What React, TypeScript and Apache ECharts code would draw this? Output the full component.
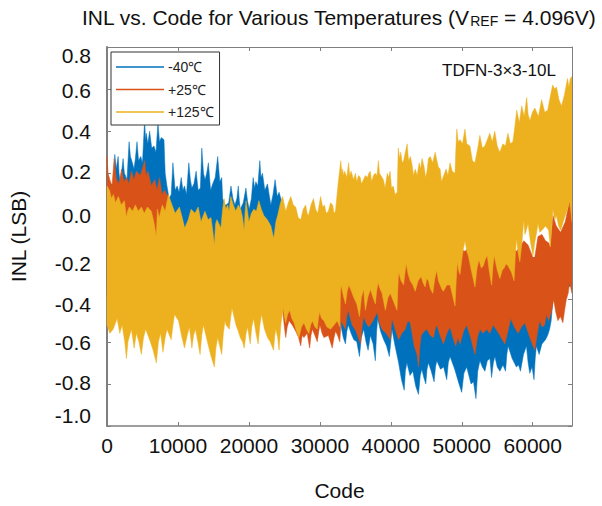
import React, { useEffect, useRef } from "react";
import * as echarts from "echarts";

type Pt = [number, number];

const xTicks = { min: 0, max: 65535, interval: 10000 };
const yTickLabels = ["0.8", "0.6", "0.4", "0.2", "0.0", "-0.2", "-0.4", "-0.6", "-0.8", "-1.0"];
const yLabelCenters = [55, 90, 131, 171, 215, 263, 304, 342, 382, 415];
const seriesNames = ["-40℃", "+25℃", "+125℃"];
const seriesColors = ["#0072BD", "#D95319", "#EDB120"];

const blueUpper: Pt[] = [[0,.20],[300,.13],[630,.15],[850,.11],[1100,.29],[1300,.22],[1570,.28],[1700,.20],[1800,.17],[2000,.19],[2270,.27],[2450,.20],[2600,.19],[2800,.16],[3110,.35],[3300,.28],[3580,.25],[3800,.22],[4000,.27],[4230,.35],[4450,.26],[4750,.28],[5000,.25],[5310,.46],[5420,.36],[5540,.39],[5750,.34],[6010,.40],[6300,.32],[6620,.33],[6900,.30],[7180,.44],[7400,.35],[7650,.37],[8030,.36],[8200,.20],[8450,.14],[8750,.08],[9050,.10],[9290,.25],[9600,.12],[9890,.14],[10150,.11],[10460,.18],[10700,.12],[10920,.14],[11200,.10],[11530,.25],[11750,.17],[11960,.13],[12250,.15],[12560,.21],[12850,.12],[13160,.13],[13360,.32],[13600,.20],[13820,.17],[14050,.20],[14290,.25],[14600,.12],[14900,.15],[15250,.18],[15600,.28],[15900,.16],[16170,.18],[16300,.08],[16630,.05],[16770,.05],[17150,.06],[17470,.14],[17750,.08],[18030,.05],[18300,.08],[18500,.14],[18650,.07],[18780,.03],[19200,.06],[19580,.13],[19800,.07],[20040,.03],[20350,.08],[20600,.18],[20800,.13],[20980,.16],[21250,.14],[21540,.26],[21700,.18],[21910,.20],[22250,.12],[22620,.15],[22850,.10],[23090,.05],[23400,.10],[23690,.17],[24000,.09],[24250,.11],[24590,.07],[24650,-.2],[62000,-.2],[65535,-.3]];
const blueLower: Pt[] = [[0,-.38],[32900,-.38],[33000,-.53],[33300,-.58],[33610,-.61],[33800,-.55],[34000,-.52],[34400,-.56],[34780,-.59],[35200,-.60],[35580,-.67],[35850,-.58],[36180,-.54],[36500,-.60],[36800,-.64],[37120,-.57],[37500,-.61],[37820,-.69],[38000,-.55],[38150,-.49],[38550,-.55],[38990,-.59],[39400,-.62],[39790,-.67],[40000,-.60],[40160,-.54],[40600,-.62],[41100,-.70],[41500,-.78],[41890,-.83],[42050,-.74],[42270,-.70],[42700,-.76],[43100,-.74],[43500,-.81],[43900,-.85],[44150,-.76],[44370,-.73],[44650,-.77],[44930,-.80],[45100,-.73],[45300,-.70],[45700,-.74],[46100,-.79],[46300,-.72],[46480,-.69],[47000,-.73],[47450,-.72],[47880,-.78],[48100,-.70],[48350,-.67],[49000,-.73],[49610,-.80],[49990,-.84],[50300,-.75],[50690,-.72],[51000,-.76],[51300,-.80],[51650,-.79],[52000,-.87],[52250,-.74],[52560,-.69],[52900,-.72],[53260,-.74],[53600,-.69],[53970,-.68],[54200,-.77],[54450,-.70],[54670,-.67],[55000,-.72],[55370,-.74],[55800,-.71],[56170,-.74],[56350,-.66],[56530,-.62],[57100,-.68],[57700,-.72],[58000,-.71],[58270,-.74],[58700,-.66],[59110,-.62],[59350,-.70],[59580,-.75],[59900,-.72],[60180,-.78],[60350,-.68],[60520,-.62],[60900,-.66],[61300,-.61],[61800,-.59],[62100,-.57],[62380,-.54],[62600,-.50],[62850,-.40],[63000,-.38],[65535,-.33]];
const orangeUpper: Pt[] = [[0,.28],[150,.20],[400,.17],[700,.14],[1010,.27],[1300,.18],[1570,.15],[1800,.17],[2040,.22],[2400,.16],[2740,.18],[3100,.15],[3440,.21],[3800,.17],[4140,.21],[4700,.19],[5310,.26],[5500,.19],[5780,.21],[6250,.14],[6710,.17],[7050,.12],[7410,.18],[7750,.10],[8110,.12],[8590,.09],[10000,-.2],[13400,-.2],[13700,.0],[14000,-.2],[33000,-.1],[49000,-.15],[50450,-.17],[51000,-.15],[57000,-.15],[57700,-.17],[58200,-.15],[58740,-.12],[59340,-.14],[60040,-.2],[60280,-.2],[60740,-.10],[61300,-.09],[61800,-.12],[62240,-.13],[62480,-.15],[62850,0],[63320,-.05],[63930,-.08],[64590,-.03],[65190,.07],[65535,.02]];
const orangeLower: Pt[] = [[0,-.40],[24500,-.40],[24810,-.47],[25000,-.53],[25190,-.58],[25400,-.53],[25660,-.50],[26100,-.52],[26600,-.55],[27000,-.58],[27300,-.62],[27500,-.57],[27760,-.58],[28200,-.56],[28560,-.63],[28750,-.57],[28940,-.54],[29300,-.57],[29640,-.60],[29850,-.55],[30010,-.52],[30300,-.56],[30570,-.58],[31200,-.57],[31740,-.63],[32000,-.58],[32210,-.55],[32500,-.57],[32810,-.60],[33000,-.50],[33300,-.52],[33610,-.54],[33800,-.48],[34000,-.45],[34300,-.49],[34550,-.52],[35100,-.55],[35720,-.61],[35950,-.53],[36180,-.48],[36500,-.51],[36880,-.53],[37500,-.50],[38060,-.46],[38400,-.51],[38760,-.54],[39350,-.56],[39930,-.59],[40050,-.53],[40160,-.49],[40600,-.54],[41100,-.59],[41550,-.56],[42030,-.54],[42400,-.50],[42740,-.51],[43300,-.62],[43700,-.66],[43900,-.72],[44100,-.62],[44280,-.57],[44700,-.55],[45080,-.54],[45550,-.57],[46010,-.58],[46250,-.54],[46480,-.52],[46950,-.57],[47410,-.61],[47900,-.56],[48350,-.53],[48750,-.58],[49150,-.62],[49450,-.58],[49750,-.61],[50250,-.55],[50690,-.52],[51250,-.58],[51860,-.66],[52200,-.58],[52560,-.54],[53000,-.56],[53500,-.54],[53950,-.56],[54430,-.52],[55200,-.56],[56070,-.61],[56500,-.55],[56910,-.49],[57400,-.53],[57940,-.56],[58400,-.53],[58880,-.51],[59600,-.58],[60280,-.64],[60600,-.57],[60980,-.50],[61350,-.53],[61680,-.52],[61920,-.47],[62250,-.50],[62620,-.46],[62950,-.40],[63250,-.46],[63550,-.50],[63900,-.48],[64250,-.51],[64500,-.45],[64730,-.40],[65000,-.37],[65190,-.32],[65535,-.37]];
const yellowUpper: Pt[] = [[0,.14],[350,.12],[630,.08],[900,.10],[1200,.06],[1600,.09],[2000,.05],[2450,.07],[2740,-.01],[2900,.02],[3150,.04],[3600,.02],[4000,.05],[4400,.02],[4850,.04],[5250,.01],[5700,.04],[6250,.02],[6600,-.03],[6950,-.10],[7100,.03],[7350,-.01],[7800,.05],[8200,.02],[8650,.10],[9050,.06],[9600,.01],[10200,.04],[10600,-.01],[10950,-.06],[11450,-.02],[11850,.03],[12400,.01],[12850,.04],[13250,-.03],[13800,.02],[14250,-.02],[14650,-.01],[14900,-.07],[15130,-.14],[15300,-.04],[15500,-.02],[16050,-.06],[16300,.03],[16500,.08],[16750,.03],[17000,.05],[17200,.02],[17450,.09],[17800,.05],[18150,.02],[18500,.05],[18850,.03],[19100,-.01],[19340,-.07],[19450,.01],[19600,.07],[19800,.02],[20000,-.03],[20350,.01],[20700,.03],[21050,.02],[21400,.07],[21750,.03],[22100,0],[22600,-.02],[23100,-.05],[23300,-.08],[23500,-.11],[23800,-.03],[24050,0],[24450,.06],[24750,.09],[25000,.05],[25200,.02],[25550,.06],[25900,.09],[26250,.05],[26600,.04],[26950,-.01],[27300,-.02],[27650,.03],[28000,.05],[28200,.01],[28400,0],[28750,.05],[29100,.08],[29400,.03],[29700,.01],[29900,.05],[30100,.09],[30400,.04],[30650,.05],[30900,.01],[31200,.02],[31500,.06],[31800,.05],[32000,.01],[32200,.02],[32600,.16],[32950,.26],[33100,.20],[33200,.22],[33350,.19],[33500,.21],[33800,.18],[34050,.25],[34200,.19],[34400,.21],[34750,.17],[35000,.20],[35200,.16],[35450,.19],[35700,.18],[35850,.15],[36150,.17],[36400,.19],[36700,.18],[36900,.20],[37100,.21],[37300,.16],[37550,.19],[37800,.20],[38050,.19],[38250,.26],[38400,.20],[38600,.19],[38950,.17],[39200,.13],[39500,.20],[39700,.18],[39900,.21],[40100,.13],[40350,.14],[40600,.10],[40900,.11],[41050,.32],[41250,.27],[41400,.30],[41600,.25],[41800,.26],[42050,.30],[42300,.34],[42500,.26],[42750,.28],[43000,.24],[43200,.19],[43450,.22],[43700,.19],[44000,.25],[44200,.22],[44400,.27],[44700,.23],[44900,.18],[45100,.21],[45300,.27],[45550,.28],[45900,.25],[46250,.30],[46500,.26],[46700,.23],[46950,.22],[47150,.16],[47350,.18],[47800,.22],[48050,.19],[48350,.25],[48650,.21],[49050,.20],[49150,.30],[49300,.41],[49500,.35],[49750,.36],[50100,.34],[50450,.41],[50700,.34],[51150,.33],[51500,.26],[51850,.25],[52200,.31],[52550,.38],[52900,.32],[53250,.33],[53600,.36],[53950,.39],[54300,.35],[54650,.40],[55000,.33],[55350,.30],[55800,.34],[56150,.33],[56500,.39],[56850,.34],[57200,.35],[57400,.40],[57750,.50],[58100,.44],[58450,.52],[58800,.47],[59150,.56],[59350,.48],[59600,.45],[59950,.49],[60300,.51],[60800,.47],[61250,.55],[61700,.49],[62100,.50],[62450,.56],[62800,.62],[63100,.60],[63350,.61],[63700,.55],[64050,.52],[64450,.57],[64900,.65],[65100,.61],[65300,.65],[65535,.66]];
const yellowLower: Pt[] = [[0,-.52],[400,-.56],[870,-.54],[1430,-.49],[1800,-.56],[2130,-.52],[2500,-.60],[2740,-.68],[2950,-.60],[3440,-.54],[3820,-.63],[4140,-.56],[4500,-.60],[4840,-.66],[5150,-.58],[5450,-.54],[6010,-.59],[6500,-.64],[6950,-.70],[7250,-.60],[7550,-.56],[7890,-.65],[8200,-.58],[8450,-.54],[9050,-.59],[9300,-.52],[9520,-.47],[10080,-.50],[10500,-.57],[10920,-.63],[11300,-.57],[11620,-.53],[11960,-.63],[12200,-.57],[12460,-.54],[12800,-.60],[13120,-.66],[13350,-.57],[13590,-.52],[14150,-.60],[14670,-.67],[15130,-.72],[15350,-.63],[15600,-.58],[16170,-.66],[16400,-.56],[16630,-.50],[16770,-.52],[17240,-.54],[17450,-.48],[17610,-.44],[18180,-.52],[18500,-.55],[18780,-.58],[19100,-.60],[19340,-.63],[19600,-.56],[19820,-.53],[20180,-.61],[20400,-.53],[20660,-.49],[21000,-.56],[21300,-.61],[21550,-.52],[21780,-.47],[22200,-.54],[22620,-.58],[23000,-.60],[23470,-.64],[23650,-.57],[23790,-.54],[24050,-.58],[24250,-.64],[24500,-.52],[24810,-.44],[25000,-.48],[25190,-.51],[25450,-.47],[25750,-.45],[26050,-.49],[26360,-.51],[26700,-.55],[27060,-.58],[27400,-.53],[27760,-.51],[28100,-.54],[28460,-.56],[28700,-.52],[28940,-.50],[29300,-.53],[29640,-.54],[29800,-.49],[29960,-.46],[30250,-.49],[30570,-.50],[31000,-.53],[31510,-.54],[32000,-.52],[32450,-.50],[32810,-.53],[32910,-.36],[33000,-.33],[33300,-.38],[33610,-.42],[33850,-.36],[34080,-.33],[34450,-.36],[34780,-.39],[35200,-.42],[35580,-.48],[35850,-.39],[36180,-.35],[36300,-.41],[36420,-.45],[36750,-.39],[37120,-.35],[37500,-.39],[37820,-.42],[38000,-.36],[38200,-.32],[38500,-.35],[38760,-.37],[39000,-.41],[39230,-.45],[39600,-.39],[39930,-.37],[40400,-.41],[40870,-.45],[41000,-.34],[41100,-.27],[41450,-.31],[41800,-.33],[42000,-.27],[42180,-.23],[42450,-.28],[42740,-.31],[43100,-.33],[43440,-.36],[43850,-.31],[44280,-.29],[44550,-.32],[44840,-.34],[45050,-.30],[45300,-.31],[45600,-.35],[45920,-.37],[46200,-.30],[46480,-.26],[46700,-.31],[46950,-.33],[47200,-.35],[47410,-.36],[47900,-.33],[48350,-.33],[48700,-.38],[49050,-.43],[49200,-.32],[49380,-.22],[49550,-.26],[49750,-.28],[50000,-.21],[50220,-.16],[50450,-.12],[50700,-.17],[50920,-.19],[51400,-.27],[51860,-.34],[52150,-.25],[52420,-.21],[52750,-.25],[53030,-.24],[53300,-.21],[53590,-.19],[53900,-.27],[54200,-.33],[54400,-.24],[54570,-.19],[55000,-.26],[55370,-.30],[55700,-.26],[55970,-.25],[56250,-.23],[56530,-.24],[57000,-.27],[57370,-.31],[57550,-.19],[57700,-.11],[57950,-.18],[58180,-.22],[58450,-.14],[58740,-.02],[58900,-.09],[59100,-.07],[59340,-.04],[59700,-.13],[60040,-.19],[60280,-.13],[60500,-.09],[60740,-.04],[61000,-.08],[61300,-.07],[61800,-.05],[62240,-.07],[62480,-.15],[62700,-.04],[62850,.03],[63100,-.02],[63320,0],[63650,-.05],[63930,-.07],[64300,-.03],[64590,0],[64900,.03],[65190,.07],[65400,.01],[65535,-.03]];

const bands: Pt[][] = [
  [...blueUpper, ...[...blueLower].reverse()],
  [...orangeUpper, ...[...orangeLower].reverse()],
  [...yellowUpper, ...[...yellowLower].reverse()],
];

const FONT = "Liberation Sans";
const AXIS_GRAY = "#7f7f7f";

export default function App() {
  const ref = useRef<HTMLDivElement>(null);
  useEffect(() => {
    if (!ref.current) return;
    const chart = echarts.init(ref.current, undefined, { renderer: "svg" });
    const hiddenAxisBits = {
      axisLabel: { show: false },
      splitLine: { show: false },
      axisLine: { show: true, onZero: false, lineStyle: { color: AXIS_GRAY, width: 1 } },
      axisTick: { show: true, inside: true, length: 4, lineStyle: { color: AXIS_GRAY } },
    };
    chart.setOption({
      animation: false,
      backgroundColor: "#fff",
      textStyle: { fontFamily: FONT },
      grid: { left: 105, top: 47, width: 467, height: 383, containLabel: false },
      title: {
        left: 77,
        top: 1,
        text: "{a|INL vs. Code for Various Temperatures (V}{s|REF}{a| = 4.096V)}",
        textStyle: {
          rich: {
            a: { fontFamily: FONT, fontSize: 21, fontWeight: "normal", color: "#111" },
            s: { fontFamily: FONT, fontSize: 14, fontWeight: "normal", color: "#111", verticalAlign: "bottom", padding: [8, 0, 0, 0] },
          },
        },
      },
      xAxis: [
        {
          type: "value",
          ...xTicks,
          ...hiddenAxisBits,
          axisLine: { show: true, onZero: false, lineStyle: { color: AXIS_GRAY, width: 1.5 } },
          axisLabel: { show: true, fontFamily: FONT, fontSize: 21, color: "#111", margin: 9, showMaxLabel: false, formatter: (v: number) => (v > 60000 ? "" : String(v)) },
          name: "Code",
          nameLocation: "middle",
          nameGap: 54,
          nameTextStyle: { fontFamily: FONT, fontSize: 21, color: "#111" },
        },
        { type: "value", position: "top", ...xTicks, ...hiddenAxisBits },
      ],
      yAxis: [
        {
          type: "value",
          min: -1,
          max: 0.8,
          interval: 0.2,
          ...hiddenAxisBits,
          axisLine: { show: true, onZero: false, lineStyle: { color: AXIS_GRAY, width: 2 } },
          name: "INL (LSB)",
          nameLocation: "middle",
          nameGap: 78,
          nameTextStyle: { fontFamily: FONT, fontSize: 21, color: "#111" },
        },
        { type: "value", position: "right", min: -1, max: 0.8, interval: 0.2, ...hiddenAxisBits },
      ],
      legend: {
        left: 111,
        top: 52,
        orient: "vertical",
        align: "left",
        backgroundColor: "#fff",
        borderColor: "#333",
        borderWidth: 1,
        borderRadius: 0,
        padding: [8, 6, 6, 5],
        itemWidth: 48,
        itemHeight: 1.5,
        itemGap: 8.5,
        selectedMode: false,
        textStyle: { fontFamily: FONT, fontSize: 14, color: "#222", padding: [0, 0, 0, -1] },
        data: seriesNames.map((name, i) => ({ name, icon: "rect", itemStyle: { color: seriesColors[i] } })),
      },
      graphic: [
        ...yTickLabels.map((text, i) => ({
          type: "text",
          x: 91,
          y: yLabelCenters[i],
          z: 10,
          style: { text, fontFamily: FONT, fontSize: 21, fill: "#111", textAlign: "right", textVerticalAlign: "middle" },
        })),
        {
          type: "text",
          x: 442,
          y: 70,
          z: 10,
          style: { text: "TDFN-3×3-10L", fontFamily: FONT, fontSize: 17, fill: "#111", textVerticalAlign: "middle" },
        },
      ],
      series: seriesNames.map((name, i) => ({
        name,
        type: "custom",
        xAxisIndex: 0,
        yAxisIndex: 0,
        clip: true,
        itemStyle: { color: seriesColors[i] },
        data: bands[i],
        encode: { x: 0, y: 1 },
        renderItem: (params: any, api: any) => {
          if (params.dataIndex !== 0) return null;
          return {
            type: "polygon",
            shape: { points: bands[i].map((p) => api.coord(p)) },
            style: { fill: seriesColors[i], stroke: seriesColors[i], lineWidth: 0.5, lineJoin: "miter" },
          };
        },
      })),
    });
    return () => chart.dispose();
  }, []);
  return <div ref={ref} style={{ position: "fixed", left: 0, top: 0, width: 602, height: 506 }} />;
}
